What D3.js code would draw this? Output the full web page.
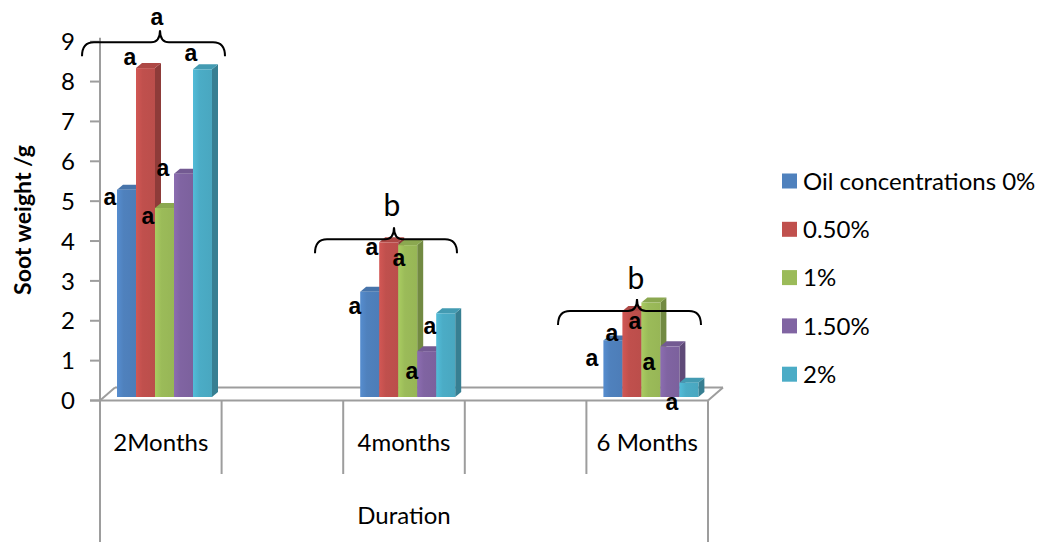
<!DOCTYPE html>
<html><head><meta charset="utf-8">
<script src="https://cdn.jsdelivr.net/npm/d3@7"></script>
<style>
html,body{margin:0;padding:0;background:#fff;}
svg{display:block;}
</style></head>
<body>
<svg id="chart" width="1043" height="542"></svg>
<script>
// ---------- DATA ----------
const categories = ["2Months", "", "4months", "", "6 Months"];
const groups = ["2Months", "4months", "6 Months"];
const seriesNames = ["Oil concentrations 0%", "0.50%", "1%", "1.50%", "2%"];
const values0 = [5.2, 2.64, 1.42];   // 0%
const values05 = [8.25, 3.88, 2.16]; // 0.50%
const values1 = [4.74, 3.81, 2.37];  // 1%
const values15 = [5.6, 1.15, 1.27];  // 1.50%
const values2 = [8.22, 2.1, 0.36];   // 2%
const yTicks = [0,1,2,3,4,5,6,7,8,9];
const groupLetters = ["a", "b", "b"];
const axisTitleY = "Soot weight /g";
const axisTitleX = "Duration";

const seriesValues = [values0, values05, values1, values15, values2];
const colors = ["#4F81BD", "#C0504D", "#9BBB59", "#8064A2", "#4BACC6"];

// annotation layout (hand placed letters): [group, series, dx px from bar centre, y in data units]
const barLetterLayout = [
  [0,0,-16.5,4.97],[0,1,-15.5,8.48],[0,2,-16.5,4.49],[0,3,-20.5,5.69],[0,4,-11.5,8.58],
  [1,0,-14.7,2.23],[1,1,-16.7,3.71],[1,2,-8.7,3.44],[1,3,-14.7,0.60],[1,4,-15.7,1.73],
  [2,0,-20.9,0.93],[2,0,-0.9,1.56],[2,1,3.1,1.86],[2,2,-1.9,0.83],[2,4,-16.9,-0.18]
];
// braces: [group, left dx, right dx, peak dx, y (data units), letter dx, letter y (data units)]
const braceLayout = [
  [0,-78.8,64.2,-0.8,8.9,-3.8,9.48],
  [1,-89,53,-10,3.96,-12,4.82],
  [2,-89.2,53.8,-10.2,2.16,-11.2,2.98]
];

// ---------- SCALES ----------
const svg = d3.select("#chart");
const x = d3.scaleBand().domain(categories.map((c,i)=>i)).range([100, 708]).padding(0);
const yAxisScale = d3.scaleLinear().domain([0, 9]).range([400.5, 41.7]);
const barBaseShift = 3.5;
const yBar = v => yAxisScale(v) - barBaseShift;
const groupIndex = [0, 2, 4];
const barW = 19;
const inner = d3.scaleBand().domain(d3.range(seriesNames.length)).range([0, barW*seriesNames.length]).padding(0);
const innerOffset = (x.bandwidth() - barW*seriesNames.length)/2 + 3.7;
const barX = (g, s) => x(groupIndex[g]) + innerOffset + inner(s);
const bandCenter = g => x(groupIndex[g]) + x.bandwidth()/2;

const gray = "#9d9d9d";
const fontMain = "Lato, 'Open Sans', sans-serif";

// gradients
const defs = svg.append("defs");
colors.forEach((c,i)=>{
  const gr = defs.append("linearGradient").attr("id","g"+i).attr("x1","0").attr("x2","1").attr("y1","0").attr("y2","0");
  gr.append("stop").attr("offset","0").attr("stop-color", d3.color(c).brighter(0.25));
  gr.append("stop").attr("offset","0.35").attr("stop-color", c);
  gr.append("stop").attr("offset","1").attr("stop-color", d3.color(c).darker(0.08));
});

// ---------- FLOOR ----------
const fdx = 15, fdy = -13;
const x0 = x.range()[0], x1 = x.range()[1];
const floorY = yAxisScale(0);
const floor = svg.append("g").attr("stroke", gray).attr("stroke-width", 2).attr("fill","none");
floor.append("line").attr("x1", x0+fdx).attr("x2", x1+fdx).attr("y1", floorY+fdy).attr("y2", floorY+fdy);
floor.append("line").attr("x1", x0).attr("x2", x0+fdx).attr("y1", floorY).attr("y2", floorY+fdy);
floor.append("line").attr("x1", x1).attr("x2", x1+fdx).attr("y1", floorY).attr("y2", floorY+fdy);

// ---------- BARS ----------
const bdx = 6, bdy = -5;
const barsG = svg.append("g");
groups.forEach((gname, g)=>{
  seriesNames.forEach((sname, s)=>{
    const v = seriesValues[s][g];
    const bx = barX(g, s), top = yBar(v), base = yBar(0);
    const c = d3.color(colors[s]);
    // side
    barsG.append("path")
      .attr("d", `M${bx+barW},${top} L${bx+barW+bdx},${top+bdy} L${bx+barW+bdx},${base+bdy} L${bx+barW},${base} Z`)
      .attr("fill", c.darker(0.85));
    // top
    barsG.append("path")
      .attr("d", `M${bx},${top} L${bx+bdx},${top+bdy} L${bx+barW+bdx},${top+bdy} L${bx+barW},${top} Z`)
      .attr("fill", c.darker(0.3));
    // front
    barsG.append("rect").attr("x", bx).attr("y", top).attr("width", barW).attr("height", base-top)
      .attr("fill", `url(#g${s})`);
  });
});

// ---------- AXES ----------
const ax = svg.append("g").attr("stroke", gray).attr("stroke-width", 2);
ax.append("line").attr("x1", x0).attr("x2", x0).attr("y1", yAxisScale(9)-4).attr("y2", 542);
ax.append("line").attr("x1", x0-10).attr("x2", x1).attr("y1", floorY).attr("y2", floorY);
ax.append("line").attr("x1", x1).attr("x2", x1).attr("y1", floorY).attr("y2", 542);
yTicks.forEach(t=>{
  ax.append("line").attr("x1", x0-10).attr("x2", x0).attr("y1", yAxisScale(t)).attr("y2", yAxisScale(t));
});
categories.forEach((c,i)=>{
  if(i>0) ax.append("line").attr("x1", x(i)).attr("x2", x(i)).attr("y1", floorY).attr("y2", 474);
});

svg.append("g").selectAll("text").data(yTicks).join("text")
  .attr("x", 75).attr("y", d=>yAxisScale(d)).attr("dy","0.36em")
  .attr("text-anchor","end").attr("font-family", fontMain).attr("font-size", 24).attr("fill","#000")
  .text(d=>d);

svg.append("g").selectAll("text").data(categories).join("text")
  .attr("x", (d,i)=>x(i)+x.bandwidth()/2).attr("y", 451)
  .attr("text-anchor","middle").attr("font-family", fontMain).attr("font-size", 24).attr("fill","#000")
  .text(d=>d);

svg.append("text").attr("x", (x0+x1)/2).attr("y", 524).attr("text-anchor","middle")
  .attr("font-family", fontMain).attr("font-size", 24).attr("fill","#000").text(axisTitleX);

svg.append("text").attr("transform","translate(31,220) rotate(-90)").attr("text-anchor","middle")
  .attr("font-family", fontMain).attr("font-weight","bold").attr("font-size", 23).attr("fill","#000").text(axisTitleY);

// ---------- LEGEND ----------
const leg = svg.append("g");
seriesNames.forEach((n,i)=>{
  const cy = 181 + i*48.3;
  leg.append("rect").attr("x", 782).attr("y", cy-7.5).attr("width", 15).attr("height", 15).attr("fill", colors[i]);
  leg.append("text").attr("x", 803).attr("y", cy).attr("dy","0.36em")
    .attr("font-family", fontMain).attr("font-size", 24).attr("fill","#000").text(n);
});

// ---------- ANNOTATIONS ----------
const letterFont = "'Liberation Sans', Arial, sans-serif";
const ann = svg.append("g");
barLetterLayout.forEach(([g,s,dx,vy])=>{
  ann.append("text").attr("x", barX(g,s)+barW/2+dx).attr("y", yBar(vy)).attr("dy","0.27em")
    .attr("text-anchor","middle").attr("font-family", letterFont).attr("font-weight","bold")
    .attr("font-size", 23).attr("fill","#000").text("a");
});
braceLayout.forEach(([g,ldx,rdx,pdx,vy,tdx,tvy])=>{
  const c = bandCenter(g);
  const xl = c+ldx, xr = c+rdx, px = c+pdx, ly = yBar(vy);
  const d = `M${xl},${ly+14} Q${xl},${ly} ${xl+12},${ly} L${px-9},${ly} Q${px},${ly} ${px},${ly-12} Q${px},${ly} ${px+9},${ly} L${xr-12},${ly} Q${xr},${ly} ${xr},${ly+14}`;
  ann.append("path").attr("d", d).attr("fill","none").attr("stroke","#000").attr("stroke-width",2);
  const letter = groupLetters[g];
  const t = ann.append("text").attr("x", c+tdx).attr("y", yBar(tvy)).attr("text-anchor","middle").attr("fill","#000");
  if(letter === "a") {
    t.attr("dy","0.27em").attr("font-family", letterFont).attr("font-weight","bold").attr("font-size",23);
  } else {
    t.attr("dy","0.36em").attr("font-family", fontMain).attr("font-size",30);
  }
  t.text(letter);
});
</script>
</body></html>
